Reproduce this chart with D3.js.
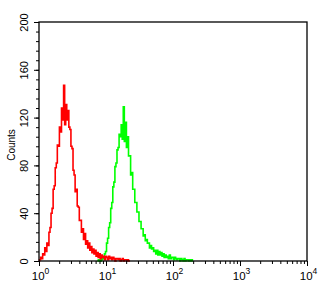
<!DOCTYPE html>
<html>
<head>
<meta charset="utf-8">
<script src="https://cdn.jsdelivr.net/npm/d3@7"></script>
<style>
  body { margin: 0; background: #fff; }
  svg text { font-family: "Liberation Sans", Arial, sans-serif; }
</style>
</head>
<body>
<div class="canva"></div>
<script>
// 256 channels over 4 decades, counts
const channels = 256
const decades = 4

const redStart = 0
const redCounts = [
  0, 1, 3, 2, 6, 5, 11, 8, 15, 13,
  24, 28, 40, 44, 60, 63, 78, 82, 97, 96,
  112, 108, 128, 118, 147, 114, 131, 118, 126, 112,
  110, 96, 94, 76, 72, 58, 60, 46, 45, 34,
  34, 24, 27, 18, 23, 14, 17, 11, 15, 9,
  12, 7, 10, 6, 9, 4, 7, 3, 6, 2,
  5, 3, 4, 1, 4, 3, 1, 4, 2, 3,
  1, 3, 2, 0, 2, 2, 1, 2, 0, 1,
  2, 0, 1, 1, 0, 1, 0, 0
]

const greenStart = 56
const greenCounts = [
  1, 0, 1, 0, 1, 2, 3, 6, 8, 15,
  19, 28, 32, 44, 49, 62, 66, 79, 82, 93,
  95, 106, 104, 114, 102, 129, 100, 116, 95, 104,
  88, 88, 72, 74, 60, 60, 49, 49, 41, 41,
  33, 33, 27, 27, 21, 22, 17, 18, 15, 15,
  11, 13, 10, 11, 8, 9, 6, 9, 5, 8,
  5, 7, 4, 6, 3, 5, 3, 4, 2, 5,
  2, 3, 3, 1, 3, 2, 1, 2, 2, 0,
  2, 1, 0, 2, 0, 1, 1, 0, 1, 0,
  1, 0
]

const yTicks = [0, 40, 80, 120, 160, 200]
const xTicks = [1, 10, 100, 1000, 10000]
const xTickExp = ["0", "1", "2", "3", "4"]

const width = 332, height = 304
const margin = { left: 39, right: 25, top: 22, bottom: 43 }

const x = d3.scaleLog()
    .domain([1, 10000])
    .range([margin.left, width - margin.right])
const y = d3.scaleLinear()
    .domain([0, 200])
    .range([height - margin.bottom, margin.top])

function chanValue(c) {
    return Math.pow(10, c * decades / channels)
}

const svg = d3.select(".canva").append("svg")
    .attr("width", width)
    .attr("height", height)

// histograms
const line = d3.line()
    .x(d => x(chanValue(d.c)))
    .y(d => y(d.n))
    .curve(d3.curveStep)

const series = [
    { start: greenStart, counts: greenCounts, color: "#00ff00" },
    { start: redStart, counts: redCounts, color: "#ff0000" }
]

series.forEach(s => {
    const pts = s.counts.map((n, i) => ({ c: s.start + i, n: n }))
    svg.append("path")
        .datum(pts)
        .attr("fill", "none")
        .attr("stroke", s.color)
        .attr("stroke-width", 1.6)
        .attr("d", line)
})

// frame
svg.append("rect")
    .attr("x", margin.left)
    .attr("y", margin.top)
    .attr("width", width - margin.left - margin.right)
    .attr("height", height - margin.top - margin.bottom)
    .attr("fill", "none")
    .attr("stroke", "#000")
    .attr("stroke-width", 1.3)

// y axis
const yMinor = d3.range(0, 201, 8)
svg.append("g")
    .attr("transform", `translate(${margin.left},0)`)
    .call(d3.axisLeft(y).tickValues(yMinor).tickSize(3).tickFormat(""))
    .call(g => g.select(".domain").remove())

const yAxis = svg.append("g")
    .attr("transform", `translate(${margin.left},0)`)
    .call(d3.axisLeft(y).tickValues(yTicks).tickSize(5))
yAxis.select(".domain").remove()
yAxis.selectAll("text")
    .attr("transform", "rotate(-90)")
    .attr("x", 0)
    .attr("y", -11)
    .attr("dy", 0)
    .attr("text-anchor", "middle")
    .attr("font-size", 11)
    .attr("fill", "#000")

svg.append("text")
    .attr("transform", `translate(15,145) rotate(-90)`)
    .attr("text-anchor", "middle")
    .attr("font-size", 10)
    .text("Counts")

// x axis
const xMinor = []
for (let d = 1; d < 10000; d *= 10) {
    for (let k = 2; k < 10; k++) xMinor.push(d * k)
}
svg.append("g")
    .attr("transform", `translate(0,${height - margin.bottom})`)
    .call(d3.axisBottom(x).tickValues(xMinor).tickSize(3).tickFormat(""))
    .call(g => g.select(".domain").remove())

const xAxis = svg.append("g")
    .attr("transform", `translate(0,${height - margin.bottom})`)
    .call(d3.axisBottom(x).tickValues(xTicks).tickSize(5).tickFormat(""))
xAxis.select(".domain").remove()

const xLab = xAxis.selectAll(".tick").append("text")
    .attr("fill", "#000")
    .attr("text-anchor", "middle")
    .attr("x", 1)
    .attr("y", 19)
    .attr("font-size", 11.5)
xLab.append("tspan").text("10")
xLab.append("tspan")
    .attr("font-size", 8.5)
    .attr("dy", -6)
    .text((d, i) => xTickExp[i])

svg.selectAll(".tick line").attr("stroke", "#000")
</script>
</body>
</html>
